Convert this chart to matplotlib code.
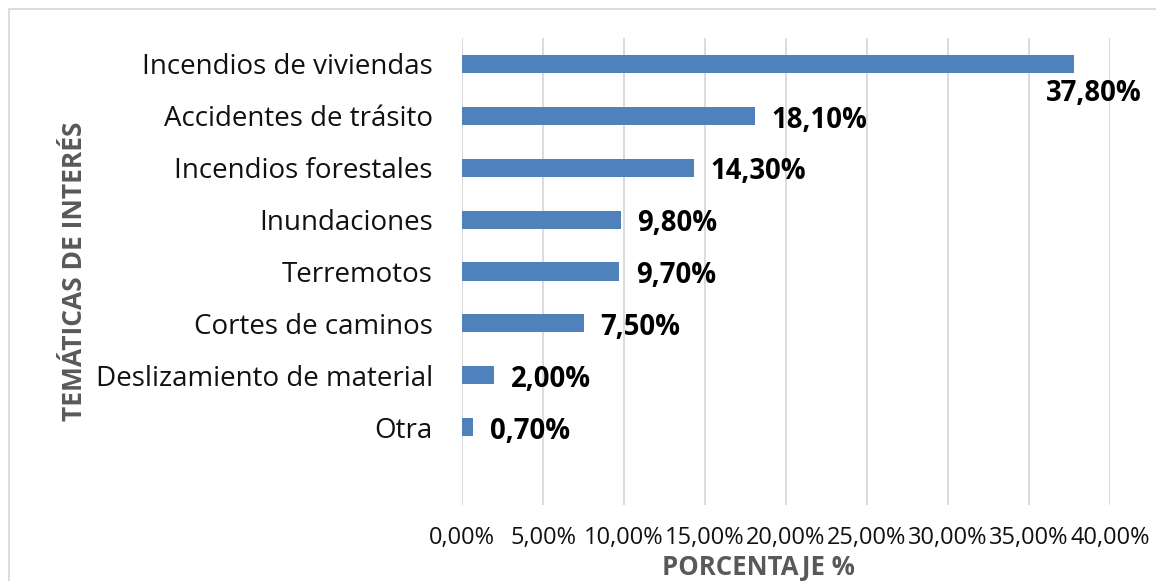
import matplotlib
matplotlib.use("Agg")
import matplotlib.pyplot as plt
from matplotlib.patches import Rectangle
from matplotlib.ticker import FuncFormatter, MultipleLocator

# Survey results: topics of interest and share of responses (%)
categories = [
    "Incendios de viviendas",
    "Accidentes de trásito",
    "Incendios forestales",
    "Inundaciones",
    "Terremotos",
    "Cortes de caminos",
    "Deslizamiento de material",
    "Otra",
]
values = [37.8, 18.1, 14.3, 9.8, 9.7, 7.5, 2.0, 0.7]

x_label = "PORCENTAJE %"
y_label = "TEMÁTICAS DE INTERÉS"

plt.rcParams["font.family"] = ["Open Sans", "DejaVu Sans"]

BAR_COLOR = "#4F81BD"
GRID_COLOR = "#D9D9D9"
AXIS_TITLE_COLOR = "#595959"

W, H = 1156, 581
fig = plt.figure(figsize=(W / 100, H / 100), dpi=100)
ax_left, ax_right, ax_top, ax_bottom = 462, 1110, 38, 505
ax = fig.add_axes([ax_left / W, 1 - ax_bottom / H,
                   (ax_right - ax_left) / W, (ax_bottom - ax_top) / H])
ax_w = ax_right - ax_left
ax_h = ax_bottom - ax_top

# Chart-area frame
fig.patches.append(Rectangle((9 / W, -0.05), 1.2, 1 - 9 / H + 0.05,
                             transform=fig.transFigure, fill=False,
                             edgecolor=GRID_COLOR, linewidth=1.3))

pos = list(range(len(categories)))
ax.barh(pos, values, height=0.35, color=BAR_COLOR, zorder=3)

ax.set_ylim(len(categories) + 0.5, -0.5)
ax.set_xlim(0, 40)
ax.xaxis.set_major_locator(MultipleLocator(5))
ax.xaxis.set_major_formatter(
    FuncFormatter(lambda v, _: f"{v:.2f}".replace(".", ",") + "%"))

ax.set_yticks(pos)
ax.set_yticklabels(categories, fontsize=20, color="#111111")
ax.tick_params(axis="y", length=0, pad=21)
ax.tick_params(axis="x", length=0, pad=15, labelsize=17, labelcolor="#111111")

ax.grid(axis="x", color=GRID_COLOR, linewidth=1.3, zorder=0)
for s in ax.spines.values():
    s.set_visible(False)

ax.set_xlabel(x_label, fontsize=18.5, fontweight="bold", color=AXIS_TITLE_COLOR)
ax.xaxis.set_label_coords((758 - ax_left) / ax_w, -(554 - ax_bottom) / ax_h)
ax.set_ylabel(y_label, fontsize=19, fontweight="bold", color=AXIS_TITLE_COLOR)
ax.yaxis.set_label_coords((88 - ax_left) / ax_w, 0.5)

# Value labels, outside end of each bar
for i, v in enumerate(values):
    txt = f"{v:.2f}".replace(".", ",") + "%"
    if v > 35:
        ax.annotate(txt, (v, i), xytext=(14, -21), textcoords="offset points",
                    ha="center", va="center", fontsize=19.8,
                    fontweight="bold", color="black")
    else:
        ax.annotate(txt, (v, i), xytext=(12, -3), textcoords="offset points",
                    ha="left", va="center", fontsize=19.8,
                    fontweight="bold", color="black")

fig.savefig("out.png", dpi=100)
